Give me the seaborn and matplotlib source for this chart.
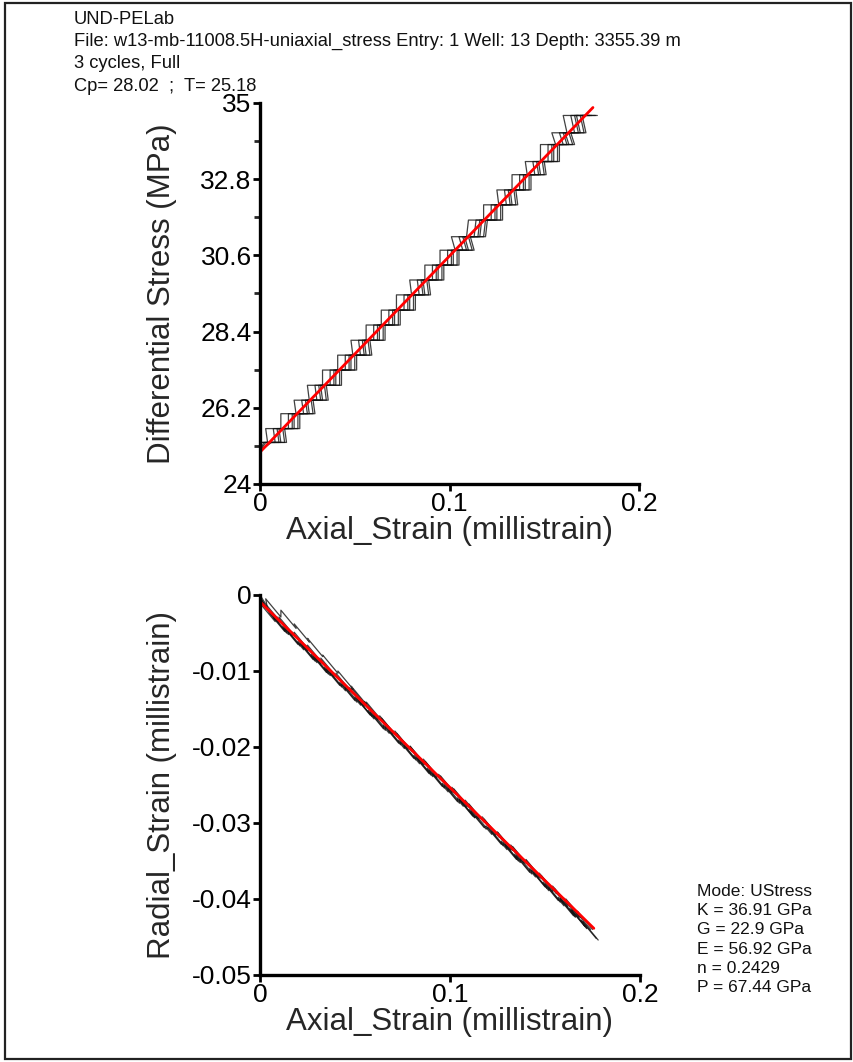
import numpy as np
import pandas as pd
import matplotlib
matplotlib.use("Agg")
import matplotlib.pyplot as plt
import seaborn as sns
from matplotlib.patches import Rectangle
from matplotlib.ticker import FixedLocator

sns.set_style("ticks")
plt.rcParams['font.family'] = ['Liberation Sans', 'DejaVu Sans']

# ---------------- data ----------------
header_lines = [
    "UND-PELab",
    "File: w13-mb-11008.5H-uniaxial_stress Entry: 1 Well: 13 Depth: 3355.39 m",
    "3 cycles, Full",
    "Cp= 28.02  ;  T= 25.18",
]
moduli_lines = [
    "Mode: UStress",
    "K = 36.91 GPa",
    "G = 22.9 GPa",
    "E = 56.92 GPa",
    "n = 0.2429",
    "P = 67.44 GPa",
]

# stress levels of the recorded steps (MPa)
stress_levels = [25.20, 25.60, 26.03, 26.42, 26.85, 27.29, 27.72, 28.15, 28.59,
                 29.02, 29.46, 29.89, 30.32, 30.75, 31.14, 31.62, 32.06, 32.49,
                 32.93, 33.31, 33.80, 34.14, 34.64]
# axial strain at the centre of each step (millistrain)
level_strain = [0.004, 0.011, 0.019, 0.026, 0.033, 0.041, 0.049, 0.056, 0.064,
                0.072, 0.080, 0.087, 0.095, 0.103, 0.109, 0.118, 0.126, 0.133,
                0.141, 0.148, 0.156, 0.162, 0.168]
# radial strain at the centre of each step (millistrain)
radial_levels = [-0.0021, -0.0038, -0.0058, -0.0075, -0.0092, -0.0112, -0.0131,
                 -0.0149, -0.0168, -0.0188, -0.0208, -0.0225, -0.0245, -0.0264,
                 -0.0279, -0.0301, -0.0321, -0.0338, -0.0357, -0.0375, -0.0395,
                 -0.0409, -0.0425]
# first loading leg sits above the others at small strains
cycle1_radial_dev = [0.0000, 0.0007, 0.0012, 0.0011, 0.0009, 0.0007, 0.0005,
                     0.0003, 0.0001, 0.0, 0.0, 0.0, 0.0, 0.0, 0.0, 0.0, 0.0,
                     0.0, 0.0, 0.0, 0.0, 0.0, 0.0]
load_axial_offset = [-0.004, 0.0, 0.003]
unload_axial_offset = [0.005, 0.002, 0.006]
load_radial_offset = [0.0014, -0.0002, -0.0003]
unload_radial_offset = [-0.0015, -0.0003, -0.0017]
step_width = 0.008          # axial extent of one stress step
radial_step_half = 0.0012   # radial change across half a step
start_stress = 24.95

fit_axial = [0.0, 0.1757]
fit_stress = [24.92, 34.87]
fit_radial = [-0.00088, -0.04386]

# ---------------- build traces ----------------
rows = []
n = len(stress_levels)
for c in range(3):
    # loading
    t = f"c{c}_load"
    pts = [(0.0, start_stress, 0.0)]
    for k in range(n):
        dev = cycle1_radial_dev[k] if c == 0 else 0.0
        r = radial_levels[k] + dev + load_radial_offset[c]
        xc = level_strain[k] + load_axial_offset[c]
        pts.append((xc - step_width / 2, stress_levels[k], r + radial_step_half))
        pts.append((xc + step_width / 2, stress_levels[k], r - radial_step_half))
    for i, p in enumerate(pts):
        rows.append(dict(trace=t, order=i, axial=p[0], stress=p[1], radial=p[2]))
    # unloading
    t = f"c{c}_unload"
    pts = []
    for k in range(n - 1, -1, -1):
        r = radial_levels[k] + unload_radial_offset[c]
        xc = level_strain[k] + unload_axial_offset[c]
        pts.append((xc + step_width / 2, stress_levels[k], r - radial_step_half))
        pts.append((xc - step_width / 2, stress_levels[k], r + radial_step_half))
    pts.append((0.0, start_stress, -0.0003))
    for i, p in enumerate(pts):
        rows.append(dict(trace=t, order=i, axial=p[0], stress=p[1], radial=p[2]))
df = pd.DataFrame(rows)
fit_df = pd.DataFrame(dict(axial=fit_axial, stress=fit_stress, radial=fit_radial))

# ---------------- figure ----------------
W, H = 854, 1062
fig = plt.figure(figsize=(W / 100, H / 100), dpi=100)
fig.patch.set_facecolor("white")

ax1 = fig.add_axes([260 / W, 1 - 484 / H, 379 / W, 381 / H])
ax2 = fig.add_axes([260 / W, 1 - 975 / H, 380 / W, 380 / H])

for ax, ycol in [(ax1, "stress"), (ax2, "radial")]:
    sns.lineplot(data=df, x="axial", y=ycol, units="trace", estimator=None,
                 sort=False, color="#111111", lw=0.9, alpha=0.8, ax=ax,
                 legend=False)
    sns.lineplot(data=fit_df, x="axial", y=ycol, estimator=None, sort=False,
                 color="#ff0000", lw=2.0, ax=ax, legend=False)
    for s in ["top", "right"]:
        ax.spines[s].set_visible(False)
    for s in ["left", "bottom"]:
        ax.spines[s].set_linewidth(2.4)
        ax.spines[s].set_color("black")
    ax.set_facecolor("white")
    ax.tick_params(axis="both", which="major", direction="out", length=5,
                   width=2, labelsize=19, pad=1, colors="black")
    ax.tick_params(axis="both", which="minor", direction="out", length=4,
                   width=2)
    ax.set_xlim(0, 0.2)
    ax.xaxis.set_major_locator(FixedLocator([0, 0.1, 0.2]))
    ax.set_xticklabels(["0", "0.1", "0.2"])
    ax.set_xlabel("Axial_Strain (millistrain)", fontsize=22.5)
    ax.xaxis.set_label_coords(0.5, -0.083)

ax1.set_ylim(24, 35)
ax1.yaxis.set_major_locator(FixedLocator([24, 26.2, 28.4, 30.6, 32.8, 35]))
ax1.set_yticklabels(["24", "26.2", "28.4", "30.6", "32.8", "35"])
ax1.yaxis.set_minor_locator(FixedLocator([25.1, 27.3, 29.5, 31.7, 33.9]))
ax1.set_ylabel("Differential Stress (MPa)", fontsize=22.5)
ax1.yaxis.set_label_coords(-0.219, 0.5)

ax2.set_ylim(-0.05, 0)
ax2.yaxis.set_major_locator(FixedLocator([0, -0.01, -0.02, -0.03, -0.04, -0.05]))
ax2.set_yticklabels(["0", "-0.01", "-0.02", "-0.03", "-0.04", "-0.05"])
ax2.set_ylabel("Radial_Strain (millistrain)", fontsize=22.5)
ax2.yaxis.set_label_coords(-0.219, 0.5)

# header text
for i, line in enumerate(header_lines):
    fig.text(74 / W, 1 - (19 + 22.5 * i) / H, line, ha="left", va="center",
             fontsize=13.2, color="#111111")
# moduli text
for i, line in enumerate(moduli_lines):
    fig.text(697 / W, 1 - (891 + 19.4 * i) / H, line, ha="left", va="center",
             fontsize=12.5, color="#111111")

# outer frame
fig.add_artist(Rectangle((5 / W, 3 / H), 846 / W, 1056 / H,
                         transform=fig.transFigure, fill=False, lw=1.6,
                         ec="#222222"))

fig.savefig("out.png", dpi=100)
